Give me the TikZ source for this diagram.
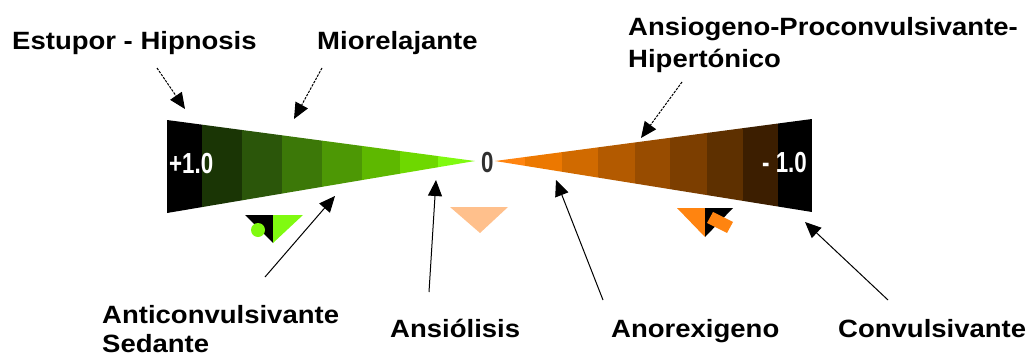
\documentclass[tikz,border=0pt]{standalone}
\usepackage{fontspec}
\setmainfont{Liberation Sans}
\usepackage{tikz}
\usetikzlibrary{arrows.meta}
\definecolor{fxgreen}{HTML}{80FA10}
\definecolor{fxorange}{HTML}{FF8410}
\definecolor{fxpeach}{HTML}{FFC08C}
\definecolor{fxzero}{HTML}{303030}
\tikzset{
  fxlabel/.style={anchor=base west, inner sep=0pt, xscale=1.1,
    font=\bfseries\fontsize{25}{29}\selectfont},
  fxvalue/.style={anchor=base west, inner sep=0pt, xscale=0.77,
    font=\bfseries\fontsize{29}{29}\selectfont},
  fxarrow/.style={-{Triangle[length=16pt,width=14pt]}, line width=1pt, black},
  fxdash/.style={fxarrow, dash pattern=on 2.5pt off 1.2pt}
}

\begin{document}
\begin{tikzpicture}[x=1pt,y=-1pt]
  \useasboundingbox (0,0) rectangle (1030,356);
  % green wedge, +1.0 side
  \begin{scope}
    \clip (167,120) -- (475,161) -- (167,213) -- cycle;
    \foreach \xa/\xb/\col in {167/202/000000,202/242/1A3505,242/282/2B560A,
        282/322/3C7808,322/362/4D9805,362/400/5EB800,400/438/6ED800,438/476/80FA10} {
      \definecolor{cur}{HTML}{\col}
      \fill[cur] (\xa,100) rectangle (\xb,230);
    }
  \end{scope}
  % orange wedge, -1.0 side
  \begin{scope}
    \clip (495,161) -- (812,119) -- (812,212) -- cycle;
    \foreach \xa/\xb/\col in {494/525/FF8410,525/562/EC7800,562/598/D06A00,
        598/635/B35A00,635/670/984C00,670/707/7C3E00,707/743/5E3000,
        743/778/3C1E00,778/813/000000} {
      \definecolor{cur}{HTML}{\col}
      \fill[cur] (\xa,100) rectangle (\xb,230);
    }
  \end{scope}
  \node[fxvalue, text=white] (plusone) at (169,173) {+1.0};
  \node[fxvalue, text=white] (minusone) at (762,172) {- 1.0};
  \node[fxvalue, text=fxzero] (zero) at (481,172) {0};

  % small marks under the scale
  \fill[black] (245,215) -- (273,215) -- (273,243) -- cycle;
  \fill[fxgreen] (273,215) -- (303,215) -- (273,243) -- cycle;
  \fill[fxgreen] (258,230) circle (7);
  \fill[fxpeach] (450,207) -- (508,207) -- (480,233) -- cycle;
  \fill[fxorange] (677,208) -- (705,208) -- (705,237) -- cycle;
  \fill[black] (705,208) -- (733,208) -- (705,237) -- cycle;
  \fill[fxorange] (713,212) -- (733,222) -- (727,233) -- (707,223) -- cycle;

  % labels
  \node[fxlabel] (estupor) at (12,49) {Estupor - Hipnosis};
  \node[fxlabel] (mio) at (317,49) {Miorelajante};
  \node[fxlabel] (ansiogeno) at (628,35) {Ansiogeno-Proconvulsivante-};
  \node[fxlabel] (hiper) at (628,67) {Hipertónico};
  \node[fxlabel] (anticonv) at (102,323) {Anticonvulsivante};
  \node[fxlabel] (sedante) at (102,352) {Sedante};
  \node[fxlabel] (ansiolisis) at (390,337) {Ansiólisis};
  \node[fxlabel] (anorex) at (611,337) {Anorexigeno};
  \node[fxlabel] (convuls) at (838,337) {Convulsivante};

  % arrow ends
  \coordinate (estuporA) at (157,68);   \coordinate (estuporB) at (185,109);
  \coordinate (mioA) at (322,68);       \coordinate (mioB) at (294,119);
  \coordinate (ansiogenoA) at (682,82); \coordinate (ansiogenoB) at (641,138);
  \coordinate (anticonvA) at (265,277); \coordinate (anticonvB) at (335,196);
  \coordinate (ansiolisisA) at (429,292); \coordinate (ansiolisisB) at (436,180);
  \coordinate (anorexA) at (603,300);   \coordinate (anorexB) at (556,180);
  \coordinate (convulsA) at (888,300);  \coordinate (convulsB) at (805,222);

  \draw[fxdash] (estuporA) -- (estuporB);
  \draw[fxdash] (mioA) -- (mioB);
  \draw[fxdash] (ansiogenoA) -- (ansiogenoB);
  \draw[fxarrow] (anticonvA) -- (anticonvB);
  \draw[fxarrow] (ansiolisisA) -- (ansiolisisB);
  \draw[fxarrow] (anorexA) -- (anorexB);
  \draw[fxarrow] (convulsA) -- (convulsB);
\end{tikzpicture}
\end{document}
